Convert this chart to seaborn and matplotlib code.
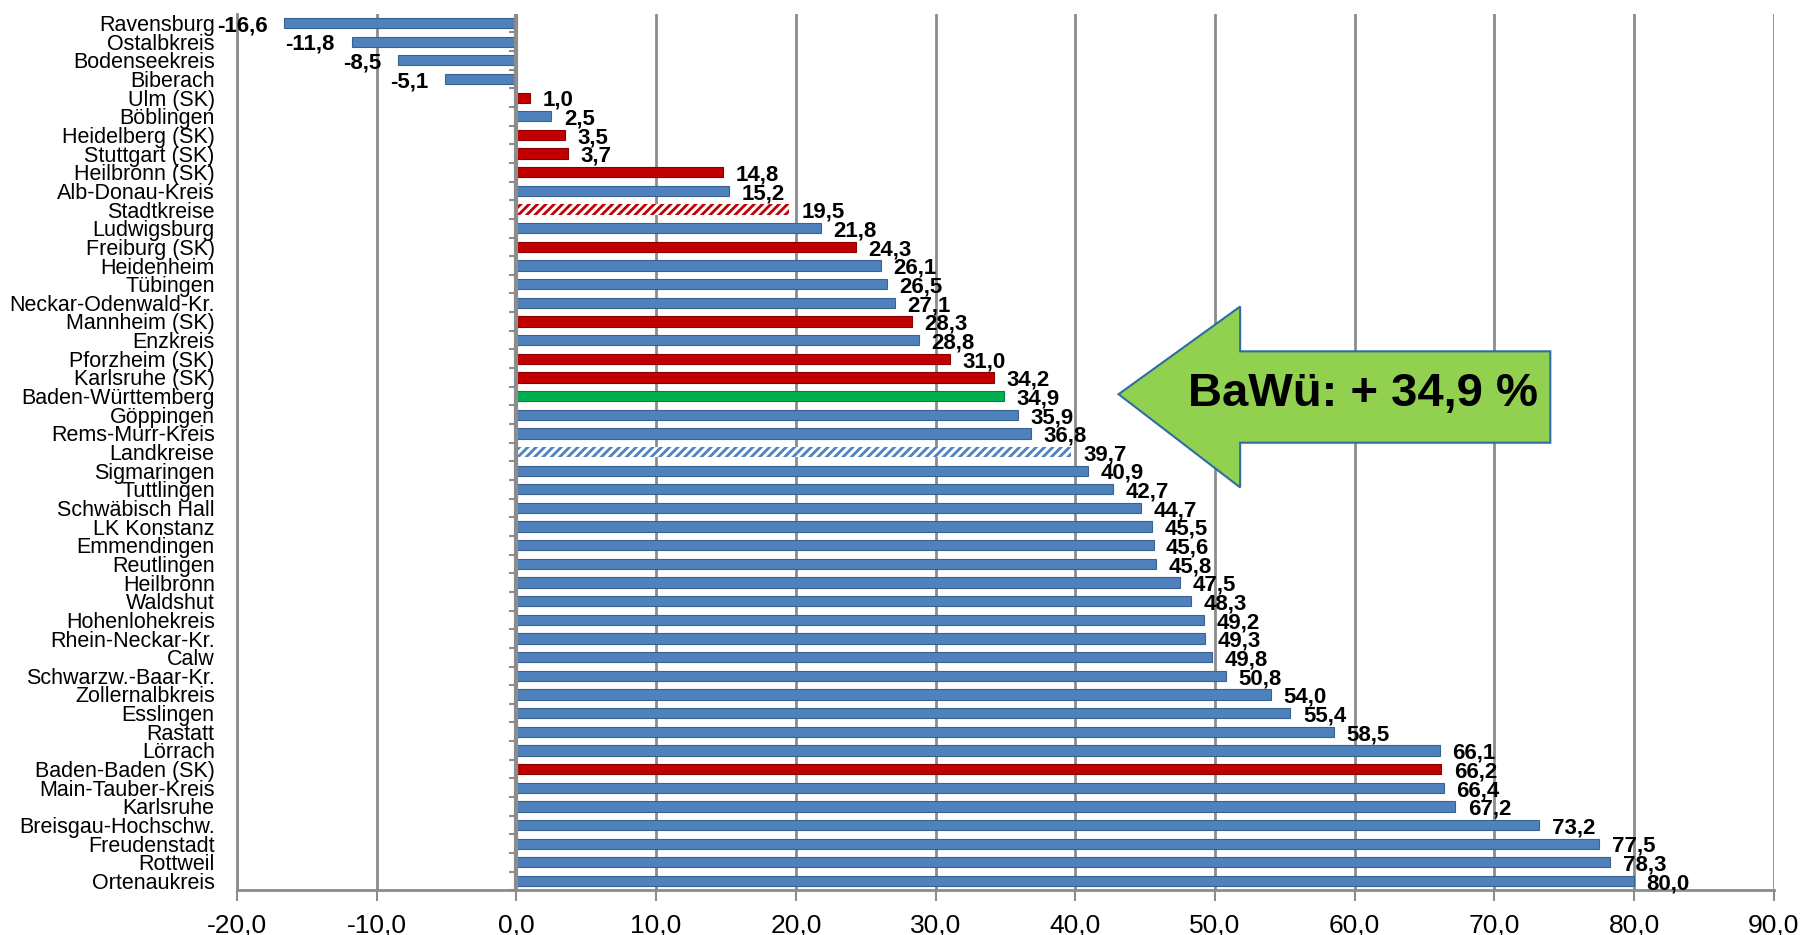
import numpy as np
import seaborn as sns
import matplotlib.pyplot as plt
from matplotlib.patches import Polygon

names = ["Ravensburg", "Ostalbkreis", "Bodenseekreis", "Biberach", "Ulm (SK)", "Böblingen",
         "Heidelberg (SK)", "Stuttgart (SK)", "Heilbronn (SK)", "Alb-Donau-Kreis", "Stadtkreise",
         "Ludwigsburg", "Freiburg (SK)", "Heidenheim", "Tübingen", "Neckar-Odenwald-Kr.",
         "Mannheim (SK)", "Enzkreis", "Pforzheim (SK)", "Karlsruhe (SK)", "Baden-Württemberg",
         "Göppingen", "Rems-Murr-Kreis", "Landkreise", "Sigmaringen", "Tuttlingen",
         "Schwäbisch Hall", "LK Konstanz", "Emmendingen", "Reutlingen", "Heilbronn", "Waldshut",
         "Hohenlohekreis", "Rhein-Neckar-Kr.", "Calw", "Schwarzw.-Baar-Kr.", "Zollernalbkreis",
         "Esslingen", "Rastatt", "Lörrach", "Baden-Baden (SK)", "Main-Tauber-Kreis", "Karlsruhe",
         "Breisgau-Hochschw.", "Freudenstadt", "Rottweil", "Ortenaukreis"]
values = [-16.6, -11.8, -8.5, -5.1, 1.0, 2.5, 3.5, 3.7, 14.8, 15.2, 19.5, 21.8, 24.3, 26.1,
          26.5, 27.1, 28.3, 28.8, 31.0, 34.2, 34.9, 35.9, 36.8, 39.7, 40.9, 42.7, 44.7, 45.5,
          45.6, 45.8, 47.5, 48.3, 49.2, 49.3, 49.8, 50.8, 54.0, 55.4, 58.5, 66.1, 66.2, 66.4,
          67.2, 73.2, 77.5, 78.3, 80.0]

def kind_of(n):
    if n == "Stadtkreise":
        return "sk_total"
    if n == "Landkreise":
        return "lk_total"
    if n == "Baden-Württemberg":
        return "land"
    if "(SK)" in n:
        return "sk"
    return "lk"

kinds = [kind_of(n) for n in names]
palette = {"lk": "#4f81bd", "sk": "#c00000", "land": "#00b050",
           "sk_total": "#c00000", "lk_total": "#4f81bd"}
edges = {"lk": "#3a6290", "sk": "#8a0000", "land": "#00803a"}

plt.rcParams['font.family'] = ['Liberation Sans', 'DejaVu Sans']
plt.rcParams['hatch.linewidth'] = 2.0

fig = plt.figure(figsize=(18.06, 9.35), dpi=100)
ax = fig.add_axes([0.1312, 0.0478, 0.851, 0.9375])

sns.barplot(x=values, y=names, hue=kinds, palette=palette, dodge=False,
            width=0.55, legend=False, ax=ax, saturation=1)

# hatched total bars, outlines for the others
for p in ax.patches:
    i = int(round(p.get_y() + p.get_height() / 2))
    k = kinds[i]
    if k in ("sk_total", "lk_total"):
        p.set_facecolor("white")
        p.set_edgecolor(palette[k])
        p.set_hatch("////")
        p.set_linewidth(0)
    else:
        p.set_edgecolor(edges[k])
        p.set_linewidth(0.8)

# value labels
for i, v in enumerate(values):
    txt = f"{v:.1f}".replace(".", ",")
    if v < 0:
        ax.annotate(txt, (v, i), xytext=(-12, -2), textcoords="offset points",
                    ha="right", va="center", fontsize=16, fontweight="bold")
    else:
        ax.annotate(txt, (v, i), xytext=(9, -2), textcoords="offset points",
                    ha="left", va="center", fontsize=16, fontweight="bold")

ax.set_xlim(-20, 90)
ax.set_ylim(len(names) - 0.5, -0.5)
ax.set_xticks(range(-20, 91, 10))
ax.set_xticklabels([f"{t:.1f}".replace(".", ",") for t in range(-20, 91, 10)])
ax.xaxis.grid(True, color="#8c8c8c", lw=2)
ax.set_axisbelow(True)
ax.axvline(0, color="#8c8c8c", lw=3, zorder=1)
# small category ticks on the zero line
ax.hlines(np.arange(len(names)) + 0.5, -0.5, 0, color="#8c8c8c", lw=1.5, zorder=1)
ax.tick_params(axis="x", labelsize=19, length=8, color="#8c8c8c", width=1.5, pad=9)
ax.tick_params(axis="y", labelsize=15.5, length=0, pad=16)
for s in ["top", "right"]:
    ax.spines[s].set_visible(False)
for s in ["left", "bottom"]:
    ax.spines[s].set_color("#8c8c8c")
    ax.spines[s].set_linewidth(2)
ax.set_xlabel("")
ax.set_ylabel("")

# annotation arrow
arrow = Polygon([(43.1, 19.9), (51.8, 15.2), (51.8, 17.6), (74.0, 17.6),
                 (74.0, 22.5), (51.8, 22.5), (51.8, 24.9)], closed=True,
                facecolor="#92d050", edgecolor="#2e6da4", lw=1.5, zorder=5)
ax.add_patch(arrow)
ax.text(60.6, 19.9, "BaWü: + 34,9 %", ha="center", va="center", fontsize=34,
        fontweight="bold", zorder=6)

plt.savefig("out.png", dpi=100)
